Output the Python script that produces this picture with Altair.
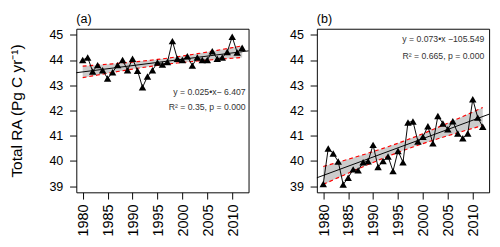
import altair as alt
import numpy as np
import pandas as pd

years = list(range(1980, 2013))
ra_a = [44.0, 44.1, 43.55, 43.8, 43.6, 43.27, 43.52, 43.8, 44.0, 43.6,
        44.05, 43.58, 42.92, 43.35, 43.6, 43.9, 43.82, 43.92, 44.75, 44.05,
        44.0, 44.15, 43.78, 44.1, 44.0, 44.0, 44.35, 44.05, 44.1, 44.32,
        44.92, 44.3, 44.49]
ra_b = [39.09, 40.5, 40.3, 39.98, 39.07, 39.34, 39.67, 39.63, 39.95, 39.99,
        40.64, 39.76, 40.0, 40.18, 39.6, 40.4, 39.95, 41.53, 41.57, 40.77,
        40.96, 41.38, 40.7, 41.78, 41.49, 41.26, 41.58, 41.09, 40.9, 41.09,
        42.45, 41.72, 41.36]

eq_a = "y =  0.025\u2022x\u2212 6.407"
r2_a = "R\u00b2 = 0.35, p = 0.000"
eq_b = "y =  0.073\u2022x \u2212105.549"
r2_b = "R\u00b2 = 0.665, p = 0.000"
y_title = "Total RA (Pg C yr\u207b\u00b9)"

x_ticks = [1980, 1985, 1990, 1995, 2000, 2005, 2010]
y_ticks = [39, 40, 41, 42, 43, 44, 45]
XDOM = [1978.72, 2013.28]
YDOM = [38.76, 45.24]
FONT = "Liberation Sans"
W, H = 179, 170


def panel(values, label, eq, r2, eq_xy, r2_xy, show_ytitle):
    x = np.array(years, dtype=float)
    y = np.array(values, dtype=float)
    b, a = np.polyfit(x, y, 1)
    fit = a + b * x
    n = len(x)
    s = np.sqrt(((y - fit) ** 2).sum() / (n - 2))
    sxx = ((x - x.mean()) ** 2).sum()
    se = s * np.sqrt(1.0 / n + (x - x.mean()) ** 2 / sxx)
    t = 2.0395
    band = pd.DataFrame({"year": x, "lo": fit - t * se, "hi": fit + t * se})
    ends = np.array(XDOM)
    line = pd.DataFrame({"year": ends, "fit": a + b * ends})
    pts = pd.DataFrame({"year": x, "val": y})
    one = pd.DataFrame({"k": [0]})

    xs = alt.Scale(domain=XDOM, nice=False, zero=False)
    ys = alt.Scale(domain=YDOM, nice=False, zero=False)
    xax = alt.Axis(values=x_ticks, labelAngle=270, labelFontSize=15,
                   labelPadding=5, format="d", labelOverlap=False)
    yax = alt.Axis(values=y_ticks, labelFontSize=13, labelPadding=7,
                   titleFontSize=16, titlePadding=26, titleFontWeight="normal",
                   labelOverlap=False, format="d")

    yt = y_title if show_ytitle else None
    X = alt.X("year:Q", scale=xs, axis=xax, title=None)

    def Y(field):
        return alt.Y(field, scale=ys, axis=yax, title=yt)

    area = alt.Chart(band).mark_area(color="#cccccc", opacity=1).encode(
        x=X, y=Y("lo:Q"), y2="hi:Q")
    lo = alt.Chart(band).mark_line(color="red", strokeWidth=1.2,
                                   strokeDash=[4, 3]).encode(x=X, y=Y("lo:Q"))
    hi = alt.Chart(band).mark_line(color="red", strokeWidth=1.2,
                                   strokeDash=[4, 3]).encode(x=X, y=Y("hi:Q"))
    reg = alt.Chart(line).mark_line(color="black", strokeWidth=1).encode(
        x=X, y=Y("fit:Q"))
    ser = alt.Chart(pts).mark_line(color="black", strokeWidth=1).encode(
        x=X, y=Y("val:Q"))
    tri = alt.Chart(pts).mark_point(shape="triangle-up", filled=True,
                                    color="black", size=60, opacity=1).encode(
        x=X, y=Y("val:Q"))
    t1 = alt.Chart(one).mark_text(align="right", baseline="middle",
                                  fontSize=9, font=FONT, color="#333333").encode(
        x=alt.value(eq_xy[0]), y=alt.value(eq_xy[1]), text=alt.value(eq))
    t2 = alt.Chart(one).mark_text(align="right", baseline="middle",
                                  fontSize=9, font=FONT, color="#333333").encode(
        x=alt.value(r2_xy[0]), y=alt.value(r2_xy[1]), text=alt.value(r2))

    return alt.layer(area, lo, hi, reg, ser, tri, t1, t2).properties(
        width=W, height=H,
        title=alt.TitleParams(label, anchor="start", frame="group",
                              fontSize=13, fontWeight="normal", font=FONT,
                              offset=3, color="black"))


pa = panel(ra_a, "(a)", eq_a, r2_a, (176, 66), (176, 81), True)
pb = panel(ra_b, "(b)", eq_b, r2_b, (174, 11), (174, 28), False)

chart = alt.hconcat(pa, pb, spacing=39).properties(padding=0).configure_view(
    stroke="black", strokeWidth=1
).configure_axis(
    domain=False, grid=False, tickSize=7, tickColor="black", tickWidth=1,
    labelColor="black", titleColor="black", labelFont=FONT, titleFont=FONT
)

chart.save("out.html", embed_options={"renderer": "svg", "actions": False})
